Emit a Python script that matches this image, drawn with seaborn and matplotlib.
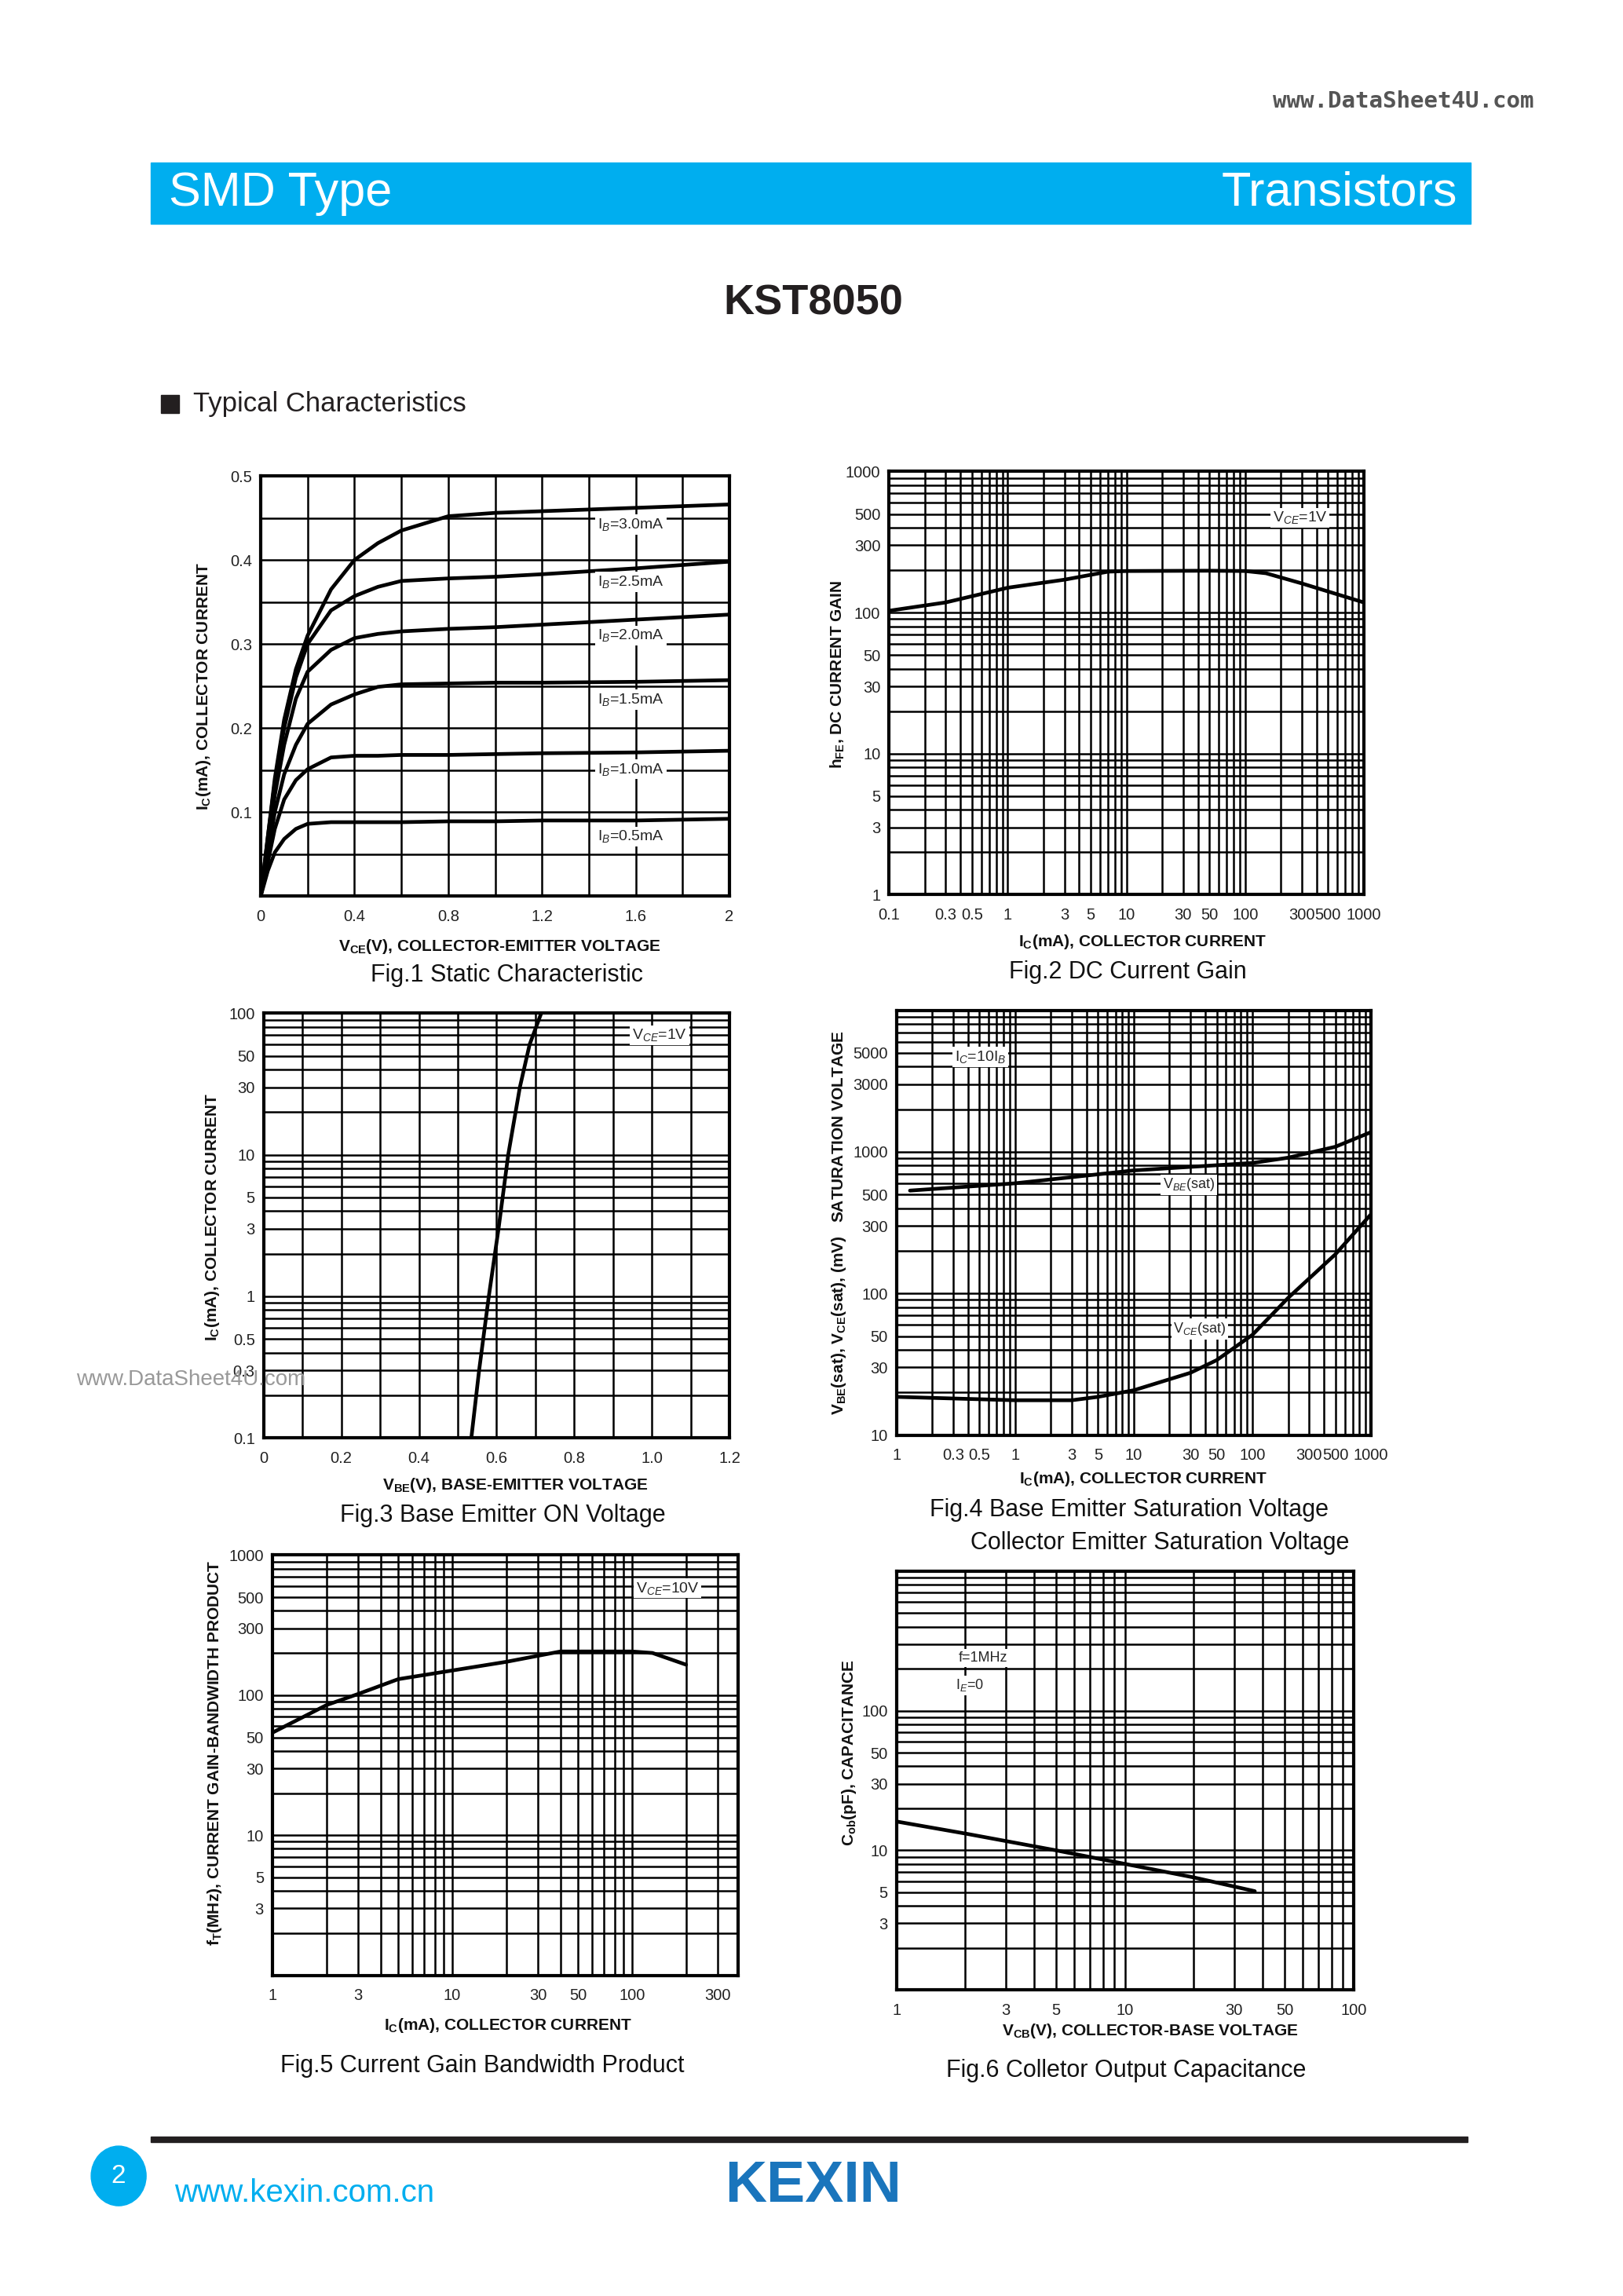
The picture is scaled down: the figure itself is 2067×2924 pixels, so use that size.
# KST8050 typical characteristics page
import numpy as np
import pandas as pd
import matplotlib
matplotlib.use('Agg')
import matplotlib.pyplot as plt
import seaborn as sns
from matplotlib.patches import Rectangle, Ellipse
from matplotlib.ticker import LogLocator, NullFormatter, FixedLocator, MultipleLocator

sns.set_theme(style='white')
plt.rcParams['font.family'] = ['Liberation Sans', 'DejaVu Sans']
plt.rcParams['mathtext.fontset'] = 'custom'
plt.rcParams['mathtext.rm'] = 'Liberation Sans'
plt.rcParams['mathtext.bf'] = 'Liberation Sans:bold'
plt.rcParams['mathtext.it'] = 'Liberation Sans:italic'

# Fig.1 static characteristic (Ic vs Vce per Ib)
vce = [0, 0.03, 0.06, 0.1, 0.15, 0.2, 0.3, 0.4, 0.5, 0.6, 0.8, 1.0, 1.2, 1.6, 2.0]
ic_ib30 = [0, 0.07, 0.14, 0.21, 0.27, 0.31, 0.365, 0.4, 0.42, 0.435, 0.452, 0.456, 0.458, 0.462, 0.466]
ic_ib25 = [0, 0.07, 0.135, 0.2, 0.26, 0.3, 0.34, 0.357, 0.368, 0.375, 0.378, 0.38, 0.383, 0.39, 0.398]
ic_ib20 = [0, 0.06, 0.12, 0.18, 0.235, 0.267, 0.293, 0.307, 0.312, 0.315, 0.318, 0.32, 0.323, 0.329, 0.335]
ic_ib15 = [0, 0.05, 0.1, 0.145, 0.18, 0.205, 0.228, 0.24, 0.249, 0.252, 0.253, 0.254, 0.254, 0.255, 0.257]
ic_ib10 = [0, 0.04, 0.08, 0.115, 0.138, 0.151, 0.165, 0.167, 0.167, 0.168, 0.168, 0.169, 0.17, 0.171, 0.173]
ic_ib05 = [0, 0.03, 0.052, 0.068, 0.08, 0.086, 0.088, 0.088, 0.088, 0.088, 0.089, 0.089, 0.09, 0.09, 0.092]
ib_labels = ['I$_B$=3.0mA', 'I$_B$=2.5mA', 'I$_B$=2.0mA', 'I$_B$=1.5mA', 'I$_B$=1.0mA', 'I$_B$=0.5mA']
ib_label_y = [0.442, 0.374, 0.31, 0.234, 0.151, 0.071]

# Fig.2 DC current gain
ic2 = [0.1, 0.3, 1, 3, 7, 10, 50, 100, 150, 300, 1000]
hfe = [103, 118, 150, 171, 195, 197, 198, 197, 190, 161, 118]

# Fig.3 base emitter on voltage
vbe = [0.535, 0.555, 0.58, 0.605, 0.63, 0.66, 0.685, 0.715]
ic3 = [0.1, 0.3, 1, 3, 10, 30, 60, 100]

# Fig.4 saturation voltages
ic4_be = [0.13, 1, 10, 100, 200, 500, 1000]
vbe_sat = [533, 600, 740, 835, 910, 1087, 1380]
ic4_ce = [0.1, 1, 3, 5, 10, 30, 50, 100, 200, 500, 1000]
vce_sat = [18.6, 17.6, 17.6, 18.6, 20.7, 27.5, 33.8, 51, 93, 189, 363]

# Fig.5 gain bandwidth product
ic5 = [1, 2, 3, 5, 10, 20, 40, 100, 130, 200]
ft = [54, 85, 102, 130, 150, 173, 205, 205, 200, 165]

# Fig.6 output capacitance
vcb = [1, 2, 5, 10, 20, 37]
cob = [16.1, 13.2, 10, 8.0, 6.4, 5.1]

# tick labels
log_ticks_wide = [0.1, 0.3, 0.5, 1, 3, 5, 10, 30, 50, 100, 300, 500, 1000]
fig2_xlabels = ['0.1', '0.3', '0.5', '1', '3', '5', '10', '30', '50', '100', '300', '500', '1000']
fig4_xlabels = ['1', '0.3', '0.5', '1', '3', '5', '10', '30', '50', '100', '300', '500', '1000']

W, H = 1108, 1568
fig = plt.figure(figsize=(20.67, 29.24), dpi=100)


def fx(x):
    return x / W


def fy(y):
    return 1 - y / H


def make_ax(l, t, r, b):
    return fig.add_axes([fx(l), fy(b), fx(r) - fx(l), fy(t) - fy(b)])


def style(ax, xlog, ylog):
    for s in ax.spines.values():
        s.set_visible(True)
        s.set_color('black')
        s.set_linewidth(3)
    if xlog:
        ax.set_xscale('log')
        ax.xaxis.set_minor_locator(LogLocator(base=10, subs=np.arange(1, 10), numticks=100))
        ax.xaxis.set_minor_formatter(NullFormatter())
    if ylog:
        ax.set_yscale('log')
        ax.yaxis.set_minor_locator(LogLocator(base=10, subs=np.arange(1, 10), numticks=100))
        ax.yaxis.set_minor_formatter(NullFormatter())
    ax.grid(True, which='both', color='black', linewidth=1.8)
    ax.tick_params(which='both', length=0, labelsize=14.5, colors='#222222')
    ax.tick_params(axis='x', pad=12)
    ax.tick_params(axis='y', pad=8)


def labels(ax, xl, yl, xlx, xly, ylx, yly):
    ax.set_xlabel(xl, fontsize=15, fontweight='bold', color='#111111')
    ax.set_ylabel(yl, fontsize=15, fontweight='bold', color='#111111')
    ax.xaxis.set_label_coords(xlx, xly)
    ax.yaxis.set_label_coords(ylx, yly)


def curve(ax, x, y):
    sns.lineplot(x=x, y=y, ax=ax, color='black', linewidth=3.4, estimator=None, sort=False)


box = dict(facecolor='white', edgecolor='none', pad=2)
lab = dict(ha='center', va='center', fontsize=14, bbox=box)

# ---- Fig.1
ax1 = make_ax(178, 325, 498, 612)
style(ax1, False, False)
for ic in [ic_ib30, ic_ib25, ic_ib20, ic_ib15, ic_ib10, ic_ib05]:
    curve(ax1, vce, ic)
ax1.set_xlim(0, 2)
ax1.set_ylim(0, 0.5)
ax1.xaxis.set_major_locator(FixedLocator([0, 0.4, 0.8, 1.2, 1.6, 2]))
ax1.set_xticklabels(['0', '0.4', '0.8', '1.2', '1.6', '2'])
ax1.xaxis.set_minor_locator(MultipleLocator(0.2))
ax1.yaxis.set_major_locator(FixedLocator([0.1, 0.2, 0.3, 0.4, 0.5]))
ax1.set_yticklabels(['0.1', '0.2', '0.3', '0.4', '0.5'])
ax1.yaxis.set_minor_locator(MultipleLocator(0.05))
for t, yv in zip(ib_labels, ib_label_y):
    ax1.text(1.58, yv, t, **lab)
labels(ax1, r'V$_{\mathbf{CE}}$(V), COLLECTOR-EMITTER VOLTAGE',
       r'I$_{\mathbf{C}}$(mA), COLLECTOR CURRENT', 0.51, -0.098, -0.103, 0.5)

# ---- Fig.2
ax2 = make_ax(607, 322, 931, 611)
style(ax2, True, True)
curve(ax2, ic2, hfe)
ax2.set_xlim(0.1, 1000)
ax2.set_ylim(1, 1000)
ax2.xaxis.set_major_locator(FixedLocator(log_ticks_wide))
ax2.set_xticklabels(fig2_xlabels)
ax2.yaxis.set_major_locator(FixedLocator([1, 3, 5, 10, 30, 50, 100, 300, 500, 1000]))
ax2.set_yticklabels(['1', '3', '5', '10', '30', '50', '100', '300', '500', '1000'])
ax2.text(290, 470, r'V$_{CE}$=1V', **lab)
labels(ax2, r'I$_{\mathbf{C}}$(mA), COLLECTOR CURRENT',
       r'h$_{\mathbf{FE}}$, DC CURRENT GAIN', 0.534, -0.09, -0.09, 0.52)

# ---- Fig.3
ax3 = make_ax(180, 692, 498, 982)
style(ax3, False, True)
curve(ax3, vbe, ic3)
ax3.set_xlim(0, 1.2)
ax3.set_ylim(0.1, 100)
ax3.xaxis.set_major_locator(FixedLocator([0, 0.2, 0.4, 0.6, 0.8, 1.0, 1.2]))
ax3.set_xticklabels(['0', '0.2', '0.4', '0.6', '0.8', '1.0', '1.2'])
ax3.xaxis.set_minor_locator(MultipleLocator(0.1))
ax3.yaxis.set_major_locator(FixedLocator([0.1, 0.3, 0.5, 1, 3, 5, 10, 30, 50, 100]))
ax3.set_yticklabels(['0.1', '0.3', '0.5', '1', '3', '5', '10', '30', '50', '100'])
ax3.text(1.02, 70, r'V$_{CE}$=1V', **lab)
labels(ax3, r'V$_{\mathbf{BE}}$(V), BASE-EMITTER VOLTAGE',
       r'I$_{\mathbf{C}}$(mA), COLLECTOR CURRENT', 0.54, -0.09, -0.091, 0.52)

# ---- Fig.4
ax4 = make_ax(612, 690, 936, 980)
style(ax4, True, True)
curve(ax4, ic4_be, vbe_sat)
curve(ax4, ic4_ce, vce_sat)
ax4.set_xlim(0.1, 1000)
ax4.set_ylim(10, 10000)
ax4.xaxis.set_major_locator(FixedLocator(log_ticks_wide))
ax4.set_xticklabels(fig4_xlabels)
ax4.yaxis.set_major_locator(FixedLocator([10, 30, 50, 100, 300, 500, 1000, 3000, 5000]))
ax4.set_yticklabels(['10', '30', '50', '100', '300', '500', '1000', '3000', '5000'])
ax4.text(0.51, 4700, r'I$_C$=10I$_B$', **lab)
ax4.text(29, 585, r'V$_{BE}$(sat)', ha='center', va='center', fontsize=13, bbox=box)
ax4.text(36, 56, r'V$_{CE}$(sat)', ha='center', va='center', fontsize=13, bbox=box)
labels(ax4, r'I$_{\mathbf{C}}$(mA), COLLECTOR CURRENT',
       r'V$_{\mathbf{BE}}$(sat), V$_{\mathbf{CE}}$(sat), (mV)   SATURATION VOLTAGE',
       0.52, -0.083, -0.102, 0.5)

# ---- Fig.5
ax5 = make_ax(186, 1062, 504, 1349)
style(ax5, True, True)
curve(ax5, ic5, ft)
ax5.set_xlim(1, 390)
ax5.set_ylim(1, 1000)
ax5.xaxis.set_major_locator(FixedLocator([1, 3, 10, 30, 50, 100, 300]))
ax5.set_xticklabels(['1', '3', '10', '30', '50', '100', '300'])
ax5.yaxis.set_major_locator(FixedLocator([3, 5, 10, 30, 50, 100, 300, 500, 1000]))
ax5.set_yticklabels(['3', '5', '10', '30', '50', '100', '300', '500', '1000'])
ax5.text(158, 580, r'V$_{CE}$=10V', **lab)
labels(ax5, r'I$_{\mathbf{C}}$(mA), COLLECTOR CURRENT',
       r'f$_{\mathbf{T}}$(MHz), CURRENT GAIN-BANDWIDTH PRODUCT', 0.506, -0.098, -0.104, 0.53)

# ---- Fig.6
ax6 = make_ax(612, 1073, 924, 1359)
style(ax6, True, True)
curve(ax6, vcb, cob)
ax6.set_xlim(1, 100)
ax6.set_ylim(1, 1000)
ax6.xaxis.set_major_locator(FixedLocator([1, 3, 5, 10, 30, 50, 100]))
ax6.set_xticklabels(['1', '3', '5', '10', '30', '50', '100'])
ax6.yaxis.set_major_locator(FixedLocator([3, 5, 10, 30, 50, 100]))
ax6.set_yticklabels(['3', '5', '10', '30', '50', '100'])
ax6.text(2.4, 239, 'f=1MHz', ha='center', va='center', fontsize=13, bbox=box)
ax6.text(2.1, 152, r'I$_E$=0', ha='center', va='center', fontsize=13, bbox=box)
labels(ax6, r'V$_{\mathbf{CB}}$(V), COLLECTOR-BASE VOLTAGE',
       r'C$_{\mathbf{ob}}$(pF), CAPACITANCE', 0.555, -0.077, -0.083, 0.566)

# captions
cap = dict(fontsize=22, color='#111111', ha='center', va='center')
fig.text(fx(346), fy(666), 'Fig.1 Static Characteristic', **cap)
fig.text(fx(770), fy(664), 'Fig.2 DC Current Gain', **cap)
fig.text(fx(343), fy(1035), 'Fig.3 Base Emitter ON Voltage', **cap)
fig.text(fx(771), fy(1031), 'Fig.4 Base Emitter Saturation Voltage', **cap)
fig.text(fx(792), fy(1054), 'Collector Emitter Saturation Voltage', **cap)
fig.text(fx(329), fy(1411), 'Fig.5 Current Gain Bandwidth Product', **cap)
fig.text(fx(769), fy(1414), 'Fig.6 Colletor Output Capacitance', **cap)

# header
fig.patches.append(Rectangle((fx(103), fy(153)), fx(1004) - fx(103), fy(111) - fy(153),
                             transform=fig.transFigure, color='#00AEEF', zorder=0))
fig.text(fx(115), fy(132), 'SMD Type', fontsize=44, color='white', ha='left', va='center')
fig.text(fx(995), fy(132), 'Transistors', fontsize=44, color='white', ha='right', va='center')
fig.text(fx(1047), fy(69), 'www.DataSheet4U.com', fontsize=21, color='#555555',
         ha='right', va='center', family='DejaVu Sans Mono', fontweight='bold')
fig.text(fx(555), fy(207), 'KST8050', fontsize=39, fontweight='bold', color='#231F20',
         ha='center', va='center')
fig.patches.append(Rectangle((fx(110), fy(282)), fx(122) - fx(110), fy(270) - fy(282),
                             transform=fig.transFigure, color='#231F20'))
fig.text(fx(132), fy(276), 'Typical Characteristics', fontsize=25, color='#231F20',
         ha='left', va='center')

# watermark
fig.text(fx(52), fy(942), 'www.DataSheet4U.com', fontsize=20, color='#999999',
         ha='left', va='center', zorder=10)

# footer
fig.patches.append(Rectangle((fx(103), fy(1463)), fx(1002) - fx(103), fy(1459) - fy(1463),
                             transform=fig.transFigure, color='#231F20'))
fig.patches.append(Ellipse((fx(81), fy(1486)), 70 / 2067, 76 / 2924,
                           transform=fig.transFigure, color='#00AEEF'))
fig.text(fx(81), fy(1486), '2', fontsize=24, color='white', ha='center', va='center')
fig.text(fx(119), fy(1498), 'www.kexin.com.cn', fontsize=29, color='#00AEEF',
         ha='left', va='center')
fig.text(fx(555), fy(1493), 'KEXIN', fontsize=53, fontweight='bold', color='#1a75bc',
         ha='center', va='center')

fig.savefig('out.png', dpi=100, facecolor='white')
